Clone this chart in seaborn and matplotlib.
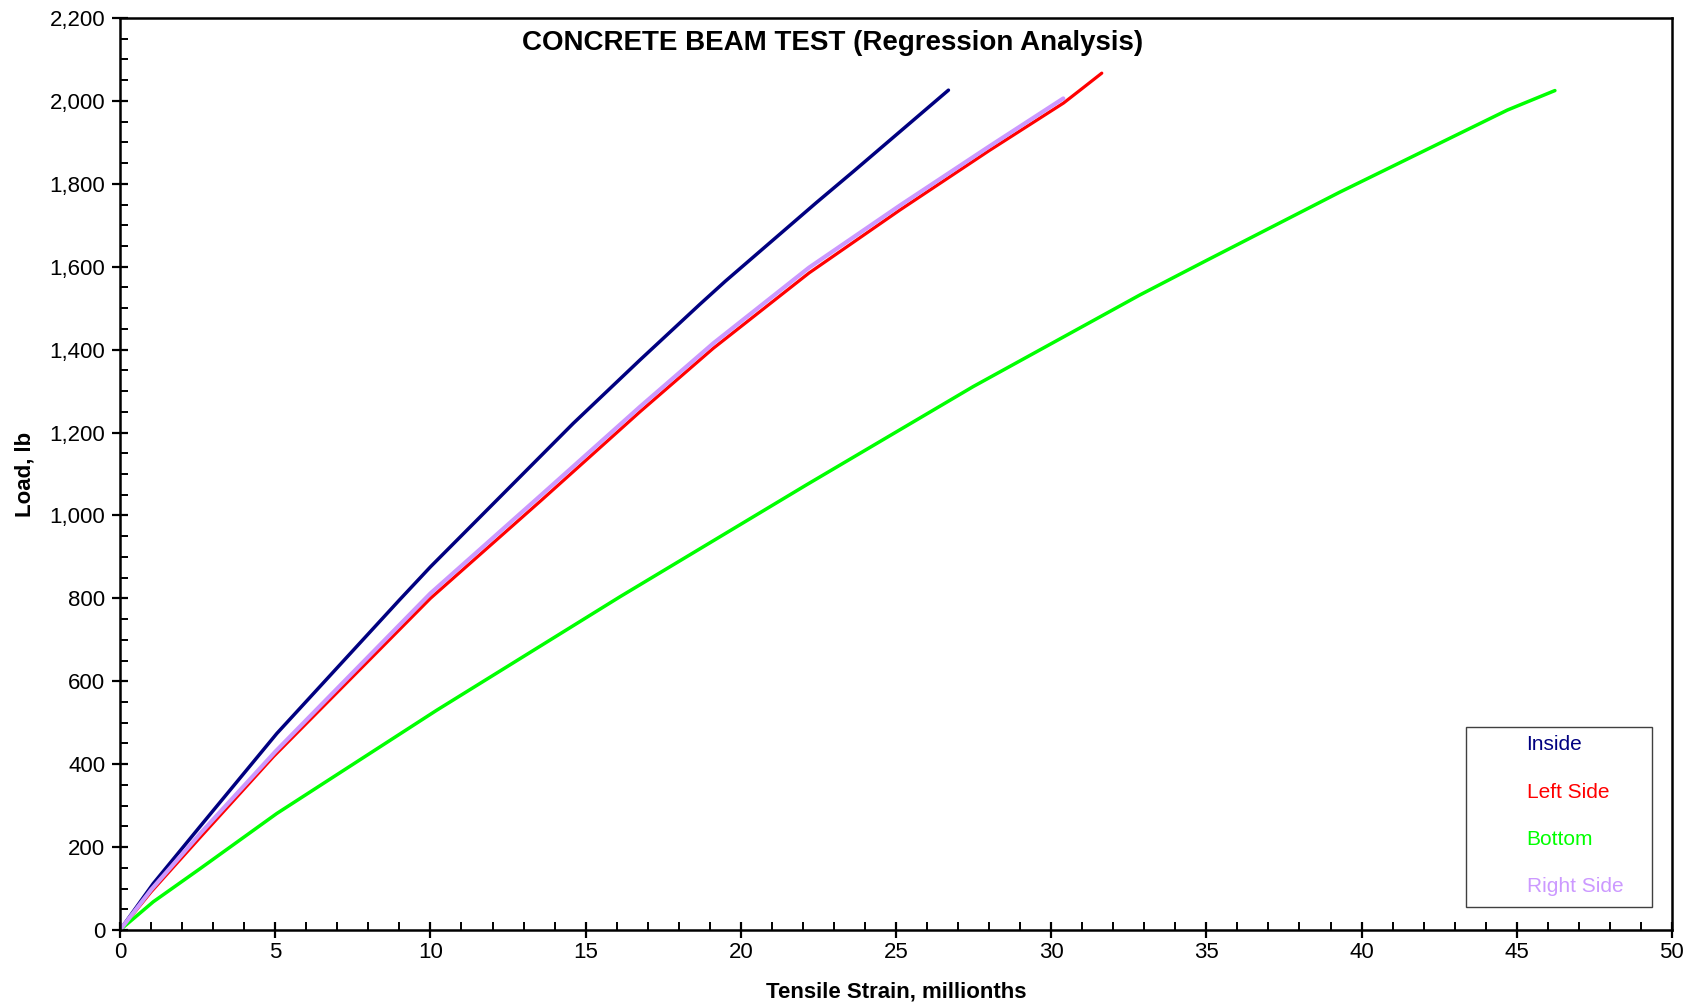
import numpy as np
import pandas as pd
import matplotlib
matplotlib.use('Agg')
import matplotlib.pyplot as plt
import matplotlib.ticker as mticker
from matplotlib.patches import Rectangle
import seaborn as sns

# ---- data (strain in millionths, load in lb) ----
inside_x = [0, 1.07, 2.58, 5.05, 9.0, 10.0, 12.14, 14.6, 16.75, 18.69, 19.5, 22.44, 23.63, 26.69]
inside_y = [0, 112, 250, 474, 796, 876, 1037, 1222, 1375, 1510, 1565, 1755, 1830, 2026]

left_x = [0, 1.0, 2.6, 4.94, 10.0, 13.58, 16.75, 19.11, 22.2, 25.13, 28.0, 30.4, 31.0, 31.63]
left_y = [0, 92, 225, 418, 800, 1037, 1250, 1403, 1585, 1737, 1880, 1995, 2030, 2067]

bottom_x = [0, 1.07, 2.58, 5.05, 10.2, 16.11, 22.12, 27.49, 32.86, 35.0, 39.3, 44.7, 46.23]
bottom_y = [0, 68, 148, 281, 530, 804, 1074, 1311, 1532, 1615, 1780, 1978, 2025]

right_x = [0, 1.0, 2.6, 5.0, 10.0, 13.58, 16.75, 19.11, 22.2, 25.13, 28.0, 30.39]
right_y = [0, 97, 234, 430, 812, 1050, 1262, 1415, 1598, 1748, 1890, 2006]

series_names = ["Inside", "Left Side", "Bottom", "Right Side"]
series_colors = ["#000080", "#FF0000", "#00FF00", "#CC99FF"]

frames = []
for name, xs, ys in zip(series_names,
                        [inside_x, left_x, bottom_x, right_x],
                        [inside_y, left_y, bottom_y, right_y]):
    frames.append(pd.DataFrame({"strain": xs, "load": ys, "gauge": name}))
df = pd.concat(frames, ignore_index=True)

# ---- style ----
sns.set_style("ticks")
plt.rcParams['font.family'] = ['Liberation Sans', 'DejaVu Sans']
for key in ['text.color', 'axes.labelcolor', 'xtick.color', 'ytick.color']:
    plt.rcParams[key] = 'black'

fig, ax = plt.subplots(figsize=(16.96, 10.07), dpi=100)
fig.subplots_adjust(left=0.0708, right=0.9858, top=0.9821, bottom=0.0765)

widths = {"Inside": 2.5, "Left Side": 2.3, "Bottom": 2.5, "Right Side": 3.0}
for name, col in zip(series_names, series_colors):
    sns.lineplot(data=df[df.gauge == name], x="strain", y="load",
                 color=col, lw=widths[name], label=name, ax=ax,
                 estimator=None, sort=True)

ax.set_xlim(0, 50)
ax.set_ylim(0, 2200)
ax.xaxis.set_major_locator(mticker.MultipleLocator(5))
ax.xaxis.set_minor_locator(mticker.MultipleLocator(1))
ax.yaxis.set_major_locator(mticker.MultipleLocator(200))
ax.yaxis.set_minor_locator(mticker.MultipleLocator(50))
ax.yaxis.set_major_formatter(mticker.FuncFormatter(lambda v, p: f"{v:,.0f}"))

ax.tick_params(which='major', direction='inout', length=11, width=1.6,
               labelsize=16, color='black')
ax.tick_params(axis='x', which='major', pad=3)
ax.tick_params(axis='y', which='major', pad=5)
ax.tick_params(which='minor', direction='in', length=6, width=1.4, color='black')

for sp in ax.spines.values():
    sp.set_visible(True)
    sp.set_linewidth(1.8)
    sp.set_color('black')

ax.set_xlabel("Tensile Strain, millionths", fontsize=16, fontweight='bold')
ax.set_ylabel("Load, lb", fontsize=16, fontweight='bold')
ax.xaxis.set_label_coords(0.5, -0.056)
ax.yaxis.set_label_coords(-0.0548, 0.5)

ax.text(0.459, 0.9726, "CONCRETE BEAM TEST (Regression Analysis)",
        transform=ax.transAxes, ha='center', va='center',
        fontsize=20, fontweight='bold')

# legend: coloured text only, inside a thin box
leg = ax.legend(loc='upper left', bbox_to_anchor=(0.8996, 0.225),
                frameon=False, handlelength=0, handletextpad=0,
                borderpad=0, labelspacing=1.36, fontsize=15,
                labelcolor='linecolor')
for h in leg.legend_handles:
    h.set_visible(False)
ax.add_patch(Rectangle((0.8673, 0.0252), 0.1198, 0.1974, transform=ax.transAxes,
                       fill=False, edgecolor='#404040', lw=1.0, zorder=5))

fig.savefig("out.png", dpi=100)
